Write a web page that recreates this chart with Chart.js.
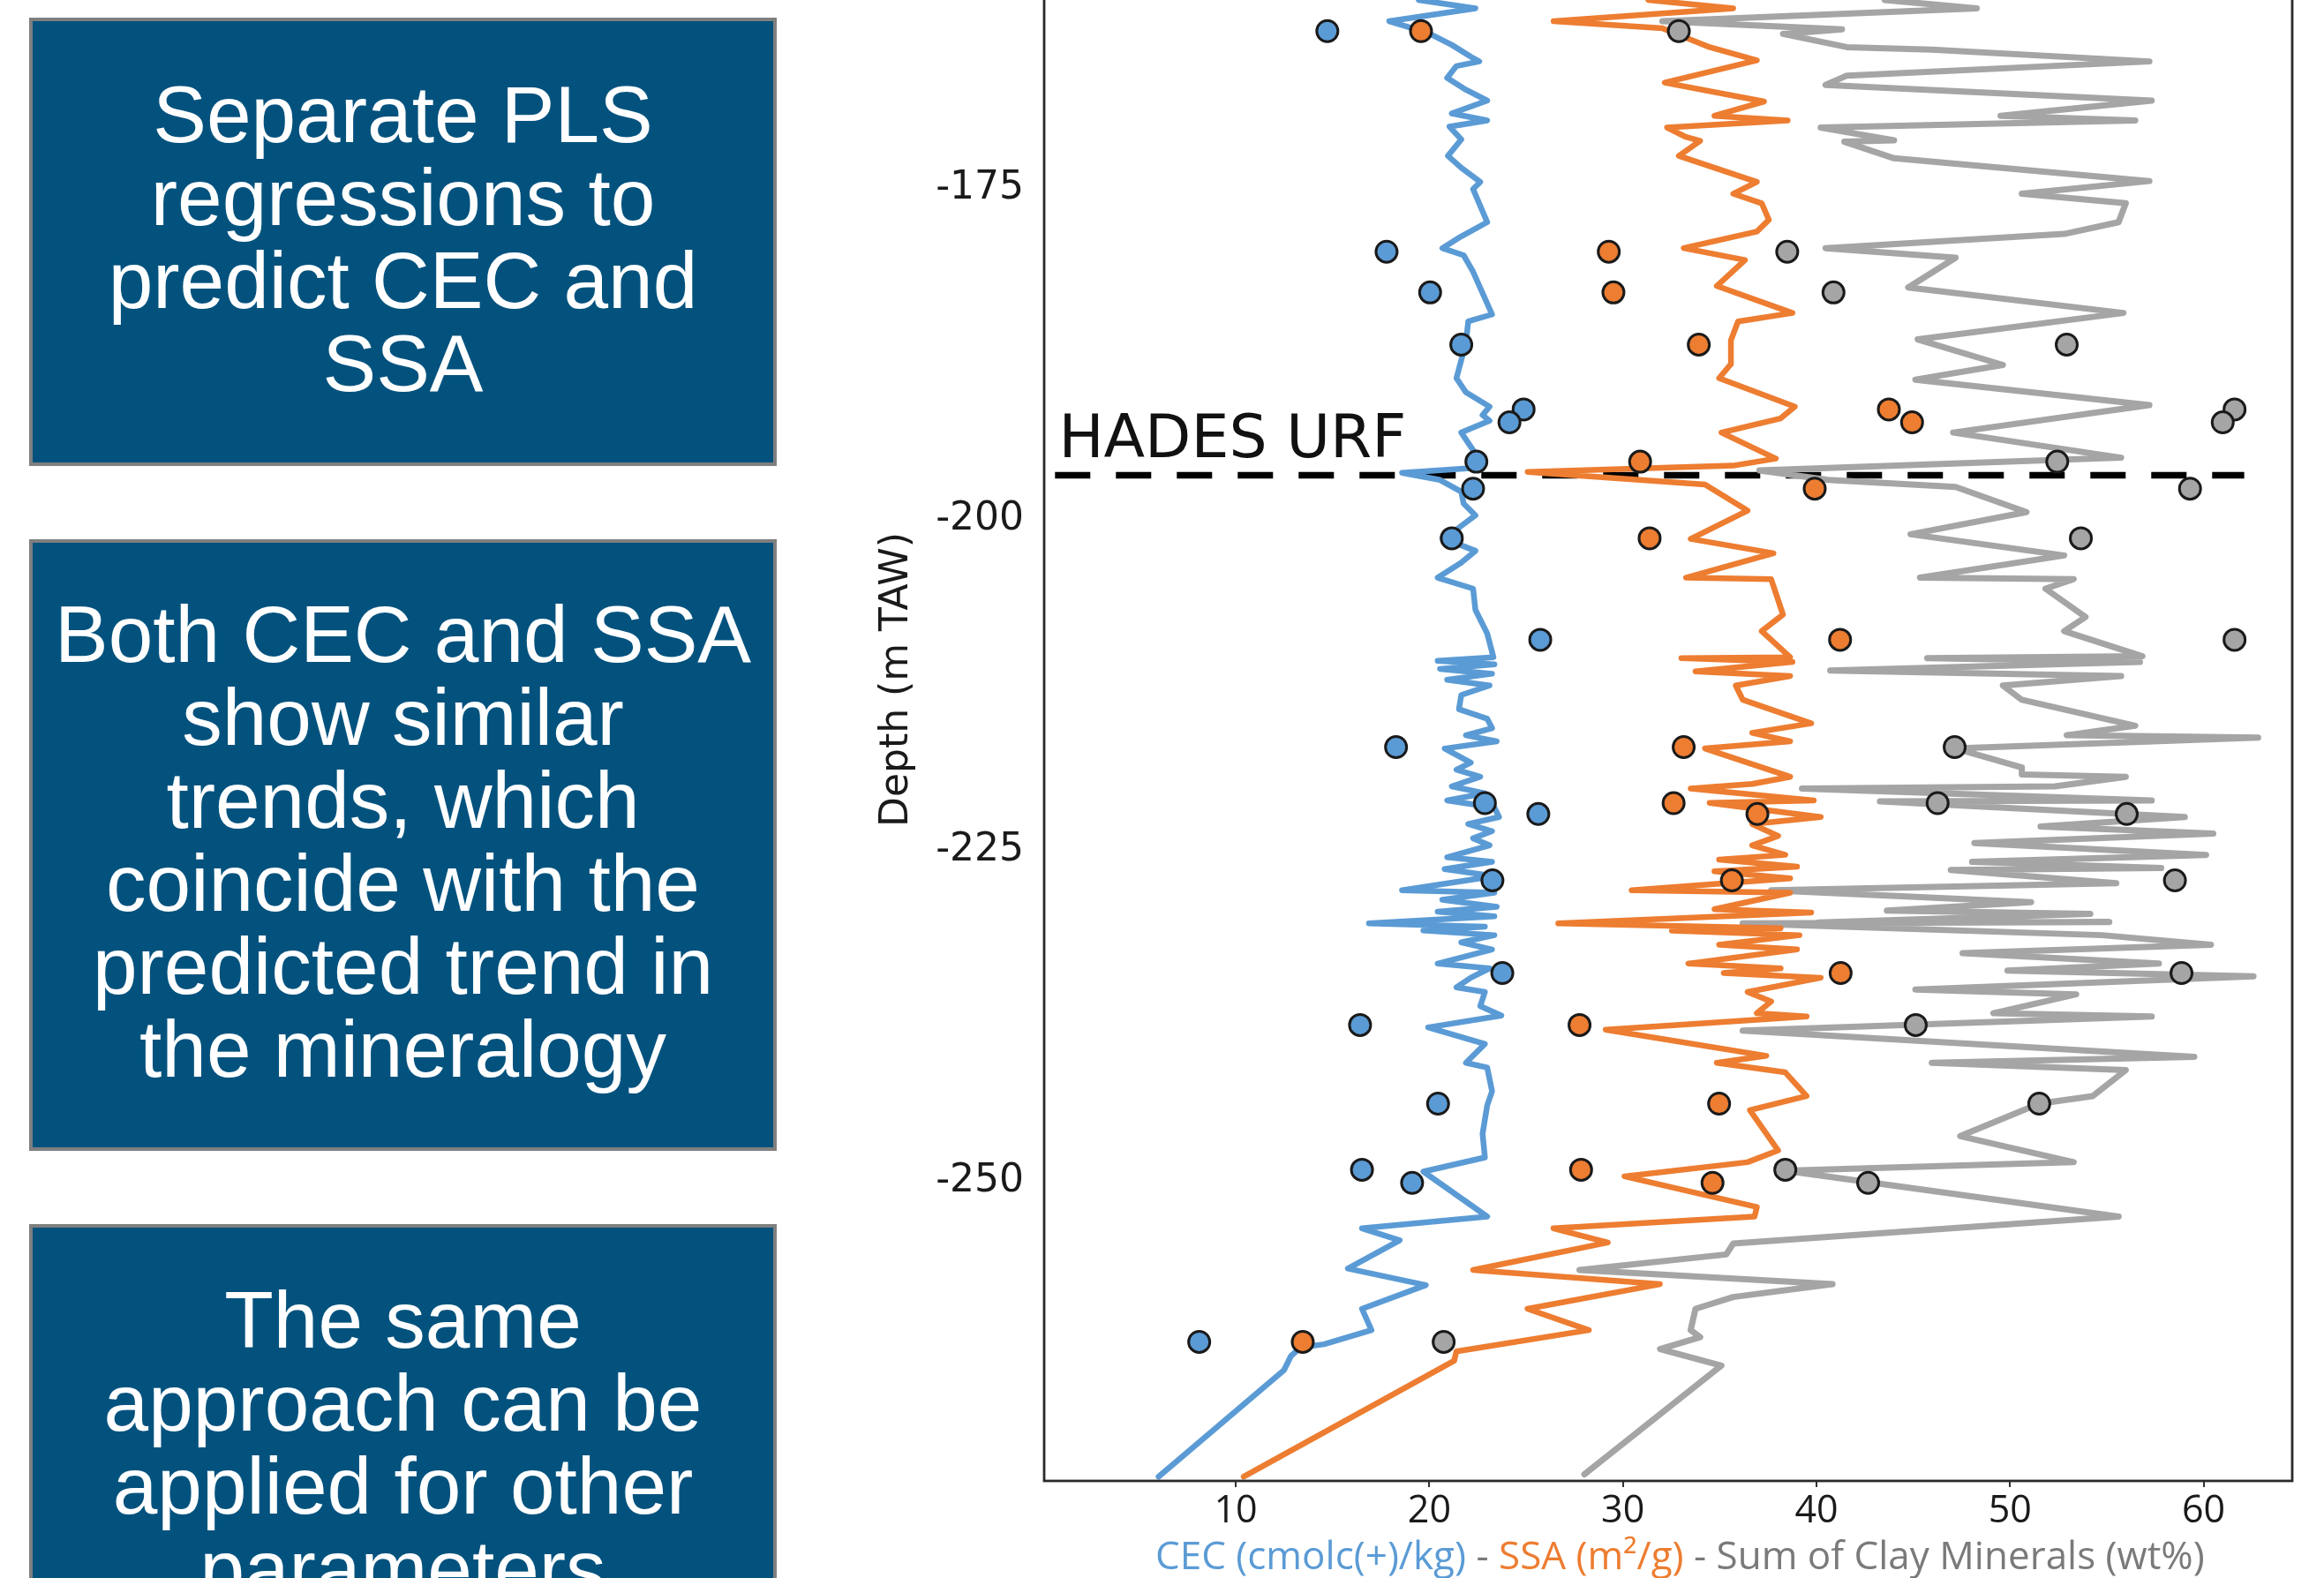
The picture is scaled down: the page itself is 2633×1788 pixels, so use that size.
<!DOCTYPE html>
<html><head><meta charset="utf-8">
<script src="https://cdn.jsdelivr.net/npm/chart.js@4.4.1/dist/chart.umd.min.js"></script>
<style>
html,body{margin:0;padding:0;background:#fff;width:2633px;height:1788px;overflow:hidden;position:relative;}
.box{position:absolute;left:33px;width:847px;box-sizing:border-box;background:#03527e;border:4px solid #7f7f7f;}
.txt{position:absolute;left:33px;width:847px;text-align:center;color:#fff;font-family:"Liberation Sans",Arial,sans-serif;font-size:91px;line-height:94px;white-space:nowrap;}
#chartWrap{position:absolute;left:940px;top:-200px;width:1693px;height:1988px;}
#xtitle{position:absolute;left:1309px;top:1739px;font-family:"Open Sans",sans-serif;font-size:44px;line-height:44px;white-space:nowrap;color:#7a7a7a;}
</style></head>
<body>
<div class="box" style="top:20px;height:508px"></div>
<div class="txt" style="top:83px">Separate PLS<br>regressions to<br>predict CEC and<br>SSA</div>
<div class="box" style="top:611px;height:693px"></div>
<div class="txt" style="top:672px">Both CEC and SSA<br>show similar<br>trends, which<br>coincide with the<br>predicted trend in<br>the mineralogy</div>
<div class="box" style="top:1387px;height:700px"></div>
<div class="txt" style="top:1449px">The same<br>approach can be<br>applied for other<br>parameters</div>
<div id="chartWrap"><canvas id="c" width="1693" height="1988"></canvas></div>
<div id="xtitle"><span style="color:#5b9bd5">CEC (cmolc(+)/kg)</span> - <span style="color:#ed7d31">SSA (m²/g)</span> - Sum of Clay Minerals (wt%)</div>
<script>
// ---- axis ticks ----
const xTicks = [10, 20, 30, 40, 50, 60];
const yTicks = [-175, -200, -225, -250];

// ---- measured samples ----
const sampleDepth = [-163.08, -179.75, -182.83, -186.77, -191.67, -192.65, -195.62, -197.66, -201.41, -209.08, -217.19, -221.43, -222.25, -227.27, -234.27, -238.20, -244.14, -249.14, -250.13, -262.15];
const cecSample  = [14.73, 17.79, 20.04, 21.65, 24.87, 24.14, 22.43, 22.26, 21.16, 25.73, 18.28, 22.87, 25.63, 23.26, 23.77, 16.42, 20.45, 16.52, 19.11, 8.11];
const ssaSample  = [19.57, 29.27, 29.51, 33.92, 43.74, 44.94, 30.89, 39.91, 31.38, 41.22, 33.14, 32.62, 36.95, 35.63, 41.25, 27.76, 34.97, 27.84, 34.63, 13.46];
const claySample = [32.89, 38.49, 40.88, 52.93, 61.60, 60.99, 52.44, 59.30, 53.66, 61.60, 47.14, 46.26, 56.03, 58.52, 58.86, 45.13, 51.51, 38.39, 42.67, 20.74];

// ---- predicted CEC profile ----
const cecLineDepth = [-150.5, -155.0, -157.5, -159.5,
 -160.72, -161.36, -162.33, -163.22, -164.12, -165.01, -165.37, -165.72, -166.62, -167.51, -168.33, -169.30, -169.83, -170.30, -171.26, -172.51, -173.41, -174.48, -175.02, -177.52, -178.59, -179.48, -180.02, -181.27, -184.49, -185.02, -186.63, -189.31, -190.38, -191.46, -192.10, -192.53, -193.42, -194.49, -195.57, -196.10, -196.46, -197.00, -197.89, -198.78, -199.68, -200.75, -201.39, -202.36, -203.25, -204.39, -205.22, -206.82, -208.61, -210.40, -210.68, -210.94, -211.29, -211.65, -212.11, -212.54, -213.26, -214.33, -215.05, -215.76, -216.30, -216.76,
 -217.30, -218.37, -218.90, -219.44, -220.16, -220.69, -221.23, -221.76, -222.48, -223.01, -223.55, -224.09, -224.62, -225.52, -225.87, -226.41, -226.95, -228.02, -228.20, -228.73, -229.27, -229.63, -229.98, -230.52, -230.77, -231.06, -231.41, -231.95, -232.49, -233.56, -233.92, -234.63, -235.35, -235.70, -236.77, -237.49, -238.38, -239.63, -241.06, -241.42, -243.21, -244.28, -246.42, -248.21, -249.28, -252.68, -253.57, -254.47, -256.61, -257.86, -259.65, -261.26, -262.33, -262.58, -263.22, -264.29, -272.34];
const cecLineValue = [21.2, 22.4, 20.8, 22.0,
 19.45, 22.38, 17.93, 19.94, 21.16, 22.14, 22.58, 21.40, 20.92, 21.89, 22.99, 21.16, 22.99, 21.04, 21.65, 20.96, 21.65, 22.63, 22.26, 22.99, 21.65, 20.67, 21.77, 22.26, 23.24, 22.01, 21.89, 21.40, 21.89, 23.11, 22.75, 23.11, 21.65, 22.14, 22.63, 22.26, 18.59, 20.55, 21.65, 21.77, 22.38, 21.40, 20.67, 22.38, 21.65, 20.43, 22.26, 22.38, 22.99, 23.31, 20.43, 23.36, 20.55, 23.24, 20.92, 23.11, 21.65, 21.53, 22.99, 23.24, 21.89, 23.48,
 20.79, 22.14, 21.40, 22.63, 21.16, 22.87, 20.92, 23.36, 23.60, 22.01, 23.24, 22.26, 23.11, 20.92, 23.24, 20.79, 23.36, 18.59, 23.36, 20.67, 23.48, 20.43, 23.36, 16.88, 22.87, 19.69, 23.36, 21.65, 23.24, 20.43, 23.11, 22.14, 21.40, 22.87, 22.63, 23.72, 19.94, 22.87, 21.89, 22.99, 23.24, 22.99, 22.75, 22.87, 19.69, 22.99, 16.52, 18.47, 15.79, 19.82, 16.52, 17.01, 14.56, 13.34, 12.85, 12.49, 6.01];

// ---- predicted SSA profile ----
const ssaLineDepth = [-150.5, -155.0, -157.5, -159.5,
 -160.72, -161.36, -162.33, -162.86, -164.29, -165.29, -166.97, -168.40, -169.48, -169.83, -170.37, -171.08, -171.37, -172.51, -174.48, -175.37, -176.09, -177.34, -178.23, -179.48, -180.38, -182.34, -184.38, -185.02, -186.45, -188.24, -189.31, -191.46, -192.35, -193.42, -195.39, -195.92, -196.39, -197.35, -199.32, -201.46, -202.54, -204.39, -204.50, -207.18, -208.43, -210.40, -210.47, -210.76, -211.47, -211.83, -212.54, -213.62, -215.40, -216.12, -216.76,
 -217.30, -218.37, -219.44, -219.98, -220.33, -221.23, -221.41, -222.48, -223.01, -223.91, -224.62, -225.34, -225.70, -226.23, -226.59, -227.12, -228.02, -228.20, -229.45, -229.70, -230.52, -230.88, -231.06, -231.41, -232.13, -232.49, -233.56, -233.92, -234.27, -234.63, -235.70, -236.42, -237.31, -237.56, -238.56, -240.53, -241.06, -241.78, -243.57, -244.64, -247.68, -248.57, -249.64, -251.96, -252.68,
 -253.57, -254.64, -256.72, -257.79, -259.65, -261.26, -262.87, -263.58, -272.34];
const ssaLineValue = [34.5, 32.0, 36.0, 33.5,
 31.31, 35.70, 26.42, 32.04, 34.48, 36.92, 32.16, 37.29, 34.73, 38.51, 32.28, 33.26, 33.99, 32.89, 36.92, 35.70, 37.17, 37.54, 36.92, 33.14, 36.31, 34.85, 38.76, 35.95, 35.58, 35.58, 34.97, 38.88, 38.15, 35.09, 37.90, 35.70, 25.08, 34.24, 36.44, 33.50, 37.78, 33.26, 37.66, 38.27, 37.17, 38.64, 33.02, 38.76, 33.75, 38.64, 35.83, 36.19, 39.73, 36.68, 38.64,
 34.24, 36.44, 38.64, 36.68, 33.50, 39.86, 34.48, 40.22, 36.68, 38.02, 36.68, 38.39, 34.97, 39.00, 34.73, 38.64, 30.45, 38.64, 34.73, 39.73, 26.66, 38.15, 32.53, 39.12, 34.97, 39.00, 33.38, 38.15, 35.21, 40.22, 36.44, 37.66, 36.92, 39.49, 29.11, 37.41, 34.85, 38.39, 39.49, 36.56, 38.02, 36.44, 30.08, 36.92, 36.80,
 26.41, 29.22, 22.26, 31.91, 25.07, 28.24, 21.40, 21.28, 10.41];

// ---- predicted sum of clay minerals profile ----
const clayLineDepth = [-150.5, -155.0, -157.5, -159.5,
 -160.72, -161.36, -162.33, -162.94, -163.29, -164.29, -164.47, -165.37, -166.44, -167.15, -168.33, -169.48, -169.83, -170.37, -171.33, -171.44, -172.69, -174.41, -175.37, -176.09, -177.52, -178.41, -179.48, -180.20, -182.45, -184.38, -186.38, -188.31, -189.42, -191.35, -193.42, -195.32, -196.28, -197.00, -197.53, -199.43, -201.11, -202.71, -204.39, -204.50, -205.22, -207.36, -208.43, -210.33, -210.47, -210.76, -211.40, -211.83, -212.54, -213.62, -215.58, -216.30, -216.48,
 -217.30, -218.73, -219.26, -219.44, -220.16, -220.33, -221.23, -221.30, -222.48, -223.19, -223.73, -224.44, -225.34, -225.87, -226.34, -226.48, -227.48, -228.02, -228.91, -229.55, -229.80, -230.45, -230.41, -230.52, -231.41, -232.13, -232.77, -233.56, -234.09, -234.52, -235.52, -235.88, -237.31, -237.56, -238.63, -240.60, -241.06, -241.60, -243.57, -244.14, -246.60, -248.57, -249.21, -252.68, -254.72, -255.54, -256.72, -257.79, -258.76, -259.65, -261.26, -261.79, -262.69, -263.94, -272.16];
const clayLineValue = [46.0, 52.0, 44.0, 50.0,
 43.52, 48.28, 32.04, 41.32, 38.27, 41.57, 45.96, 57.20, 41.57, 40.47, 57.32, 49.51, 56.47, 40.22, 44.01, 41.44, 44.01, 57.20, 50.61, 55.98, 55.61, 52.80, 40.47, 47.19, 44.74, 55.86, 45.23, 49.63, 45.11, 57.20, 47.06, 55.74, 37.05, 40.59, 47.19, 50.85, 44.86, 52.80, 45.35, 53.29, 51.83, 53.90, 52.80, 56.84, 45.72, 56.71, 40.71, 55.74, 49.63, 50.61, 56.47, 52.93, 62.82,
 47.19, 50.61, 50.61, 55.98, 52.32, 39.25, 57.32, 43.28, 59.03, 51.58, 60.50, 48.16, 60.13, 48.04, 57.81, 46.94, 55.49, 37.66, 51.09, 43.64, 54.15, 40.10, 55.13, 36.19, 54.76, 60.38, 47.55, 57.69, 49.87, 62.58, 45.11, 53.42, 49.14, 57.32, 36.19, 59.52, 45.96, 55.98, 54.27, 51.51, 47.43, 53.29, 38.39, 55.61, 35.70, 35.34, 27.76, 40.83, 35.70, 33.75, 33.50, 33.99, 31.92, 35.09, 28.01];

// ---- HADES URF marker ----
const urfDepth = -196.64;
const urfRange = [0.66, 62.1];
const urfLabel = 'HADES URF';
const urfLabelAt = [0.85, -195.3];

const BLUE = '#5b9bd5', ORANGE = '#ed7d31', GRAY = '#a5a5a5';

function pairs(xs, ys) {
  const n = Math.min(xs.length, ys.length);
  const out = [];
  for (let i = 0; i < n; i++) out.push({x: xs[i], y: ys[i]});
  return out;
}
function pointSet(vals, color) {
  return {type: 'scatter', data: pairs(vals, sampleDepth), backgroundColor: color, borderColor: '#1a1a1a',
    borderWidth: 3, pointRadius: 12, pointHoverRadius: 12, showLine: false, order: 0};
}
function lineSet(vals, depths, color, w, ord) {
  return {type: 'scatter', data: pairs(vals, depths), showLine: true, borderColor: color, backgroundColor: color,
    borderWidth: w, pointRadius: 0, borderJoinStyle: 'round', borderCapStyle: 'round', tension: 0, order: ord};
}

const framePlugin = {
  id: 'frame',
  afterDraw(c) {
    const {ctx, chartArea: a} = c;
    ctx.save();
    ctx.strokeStyle = '#2a2a2a';
    ctx.lineWidth = 2.8;
    ctx.strokeRect(a.left, a.top, a.right - a.left, a.bottom - a.top);
    ctx.restore();
  }
};
const urfPlugin = {
  id: 'urfLabel',
  beforeDatasetsDraw(c) {
    const {ctx, scales} = c;
    ctx.save();
    ctx.font = '68px "DejaVu Sans"';
    ctx.fillStyle = '#111';
    ctx.textAlign = 'left';
    ctx.textBaseline = 'alphabetic';
    ctx.fillText(urfLabel, scales.x.getPixelForValue(urfLabelAt[0]), scales.y.getPixelForValue(urfLabelAt[1]));
    ctx.restore();
  }
};

new Chart(document.getElementById('c'), {
  type: 'scatter',
  data: {
    datasets: [
      pointSet(cecSample, BLUE),
      pointSet(ssaSample, ORANGE),
      pointSet(claySample, GRAY),
      lineSet(cecLineValue, cecLineDepth, BLUE, 6.5, 2),
      lineSet(ssaLineValue, ssaLineDepth, ORANGE, 6.5, 3),
      lineSet(clayLineValue, clayLineDepth, GRAY, 7, 4),
      {type: 'scatter', data: urfRange.map(v => ({x: v, y: urfDepth})), showLine: true, borderColor: '#000',
        borderWidth: 7.5, borderDash: [40, 29], pointRadius: 0, order: 5}
    ]
  },
  options: {
    responsive: false, animation: false, devicePixelRatio: 1,
    layout: {padding: {top: 62, right: 36, left: 0, bottom: 0}},
    plugins: {legend: {display: false}, tooltip: {enabled: false}},
    events: [],
    scales: {
      x: {
        type: 'linear', position: 'bottom', min: 0.1, max: 64.58,
        afterBuildTicks: a => { a.ticks = xTicks.map(v => ({value: v})); },
        afterFit: s => { s.height = 110; },
        grid: {display: true, drawOnChartArea: false, drawTicks: true, tickLength: 7, color: '#333', lineWidth: 2},
        border: {display: false},
        ticks: {font: {family: 'Open Sans', size: 43}, color: '#1a1a1a', padding: 2, maxRotation: 0, autoSkip: false,
          callback: v => String(v)}
      },
      y: {
        type: 'linear', position: 'left', min: -272.66, max: -151.52,
        afterBuildTicks: a => { a.ticks = yTicks.map(v => ({value: v})); },
        afterFit: s => { s.width = 243; },
        grid: {display: false},
        border: {display: false},
        ticks: {font: {family: 'DejaVu Sans', size: 44}, color: '#1a1a1a', padding: 15, autoSkip: false,
          callback: v => String(v)},
        title: {display: true, text: 'Depth (m TAW)', font: {family: 'DejaVu Sans', size: 44}, color: '#1a1a1a',
          padding: {top: 50, bottom: 0}}
      }
    }
  },
  plugins: [framePlugin, urfPlugin]
});
</script>
</body></html>
